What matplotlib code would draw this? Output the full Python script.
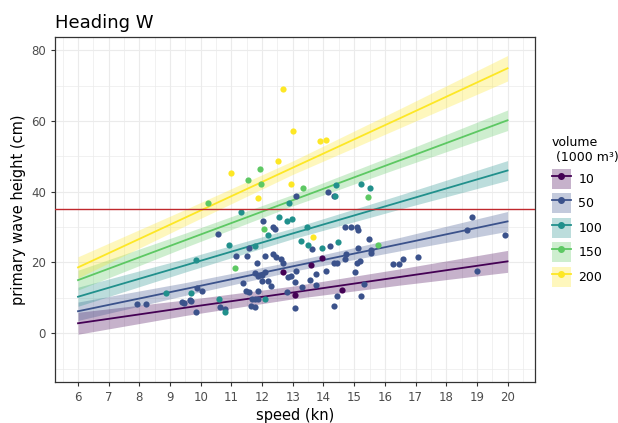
import numpy as np
import matplotlib
matplotlib.use("Agg")
import matplotlib.pyplot as plt
from matplotlib.patches import Patch
from matplotlib.lines import Line2D

# ---------- data ----------
volumes = ["10", "50", "100", "150", "200"]
colors = ["#440154", "#3B528B", "#21908C", "#5DC863", "#FDE725"]

fit_speed = [6, 9.5, 13, 16.5, 20]
fit_10 = [2.8, 7.2, 11.5, 15.9, 20.3]
fit_50 = [6.2, 12.5, 18.9, 25.2, 31.6]
fit_100 = [10.3, 19.2, 28.2, 37.1, 46.0]
fit_150 = [15.0, 26.3, 37.6, 48.9, 60.2]
fit_200 = [18.6, 32.7, 46.8, 60.8, 74.9]
# half width of the confidence ribbon
band_10 = [3.1, 2.2, 1.8, 2.3, 3.1]
band_50 = [2.6, 1.8, 1.4, 1.9, 2.8]
band_100 = [2.7, 1.9, 1.5, 2.0, 2.8]
band_150 = [2.8, 2.0, 1.6, 2.1, 2.9]
band_200 = [3.0, 2.3, 1.9, 2.7, 3.6]

pts_10_speed = [12.68, 13.95, 13.59, 14.60, 13.07]
pts_10_height = [17.2, 21.2, 19.2, 12.1, 10.7]

pts_50_speed = [7.92, 8.21, 9.39, 9.45, 9.65, 9.68, 9.84, 9.88, 10.04, 10.56,
                10.63, 10.79, 11.15, 11.37, 11.47, 11.50, 11.57, 11.57, 11.64, 11.67,
                11.77, 11.77, 11.77, 11.83, 11.86, 11.86, 11.86, 11.99, 11.99, 12.03,
                12.09, 12.09, 12.19, 12.29, 12.35, 12.35, 12.42, 12.45, 12.61, 12.68,
                12.81, 12.84, 12.94, 13.07, 13.07, 13.10, 13.10, 13.30, 13.56, 13.62,
                13.75, 13.75, 14.08, 14.14, 14.21, 14.34, 14.34, 14.34, 14.44, 14.44,
                14.70, 14.70, 14.73, 14.89, 15.02, 15.09, 15.09, 15.12, 15.12, 15.19,
                15.22, 15.32, 15.48, 15.54, 15.54, 16.26, 16.46, 16.59, 17.07, 18.67,
                18.83, 19.00, 19.90]
pts_50_height = [8.2, 8.2, 8.8, 8.5, 9.3, 9.0, 5.9, 12.7, 11.9, 28.0,
                 7.3, 6.8, 21.8, 14.1, 11.9, 21.8, 24.0, 11.6, 7.6, 9.6,
                 16.9, 9.6, 7.3, 19.8, 16.1, 11.9, 9.6, 16.4, 14.7, 31.6,
                 21.8, 17.2, 14.7, 13.3, 22.3, 29.9, 29.4, 21.5, 20.9, 19.8,
                 11.6, 15.8, 16.1, 14.4, 7.1, 38.7, 17.5, 13.0, 15.0, 23.7,
                 16.7, 13.6, 17.5, 39.8, 24.6, 38.7, 19.8, 7.6, 19.8, 10.5,
                 29.9, 20.9, 22.3, 29.9, 17.2, 29.9, 19.8, 29.1, 24.0, 20.3,
                 10.5, 13.8, 26.6, 23.4, 22.6, 19.5, 19.5, 20.9, 21.5, 29.1,
                 32.8, 17.5, 27.7]

pts_100_speed = [8.87, 9.68, 9.84, 10.59, 10.79, 10.92, 11.31, 11.77, 12.09, 12.19,
                 12.55, 12.81, 12.87, 12.97, 13.26, 13.46, 13.49, 13.95, 14.37, 14.40,
                 14.47, 15.22, 15.51]
pts_100_height = [11.3, 11.3, 20.6, 9.6, 5.9, 24.9, 34.2, 24.6, 9.6, 27.7,
                  32.8, 31.6, 36.7, 32.2, 26.0, 29.9, 24.9, 24.0, 38.7, 41.8,
                  25.7, 42.1, 41.0]

pts_150_speed = [10.23, 11.11, 11.54, 11.93, 11.96, 12.06, 13.33, 15.45, 15.77]
pts_150_height = [36.7, 18.4, 43.2, 46.3, 42.1, 29.4, 41.0, 38.4, 24.9]

pts_200_speed = [10.98, 11.86, 12.51, 12.68, 12.94, 13.00, 13.65, 13.88, 14.08]
pts_200_height = [45.2, 38.1, 48.6, 68.9, 42.1, 57.3, 27.1, 54.2, 54.5]

threshold = 35

fits = [fit_10, fit_50, fit_100, fit_150, fit_200]
bands = [band_10, band_50, band_100, band_150, band_200]
pts = [(pts_10_speed, pts_10_height), (pts_50_speed, pts_50_height),
       (pts_100_speed, pts_100_height), (pts_150_speed, pts_150_height),
       (pts_200_speed, pts_200_height)]

# ---------- plot ----------
fig = plt.figure(figsize=(6.18, 4.23), dpi=100)
ax = fig.add_axes([0.089, 0.097, 0.777, 0.816])

xs = np.array(fit_speed)
for col, fit, band in zip(colors, fits, bands):
    f = np.array(fit)
    b = np.array(band)
    ax.fill_between(xs, f - b, f + b, color=col, alpha=0.3, lw=0, zorder=2)
    ax.plot(xs, f, color=col, lw=1.3, zorder=3)

for col, (sx, sy) in zip(colors, pts):
    ax.scatter(sx, sy, s=20, color=col, lw=0, zorder=4)

ax.axhline(threshold, color="#C0282D", lw=1.0, zorder=5)

ax.set_xlim(5.25, 20.9)
ax.set_ylim(-13.8, 83.8)
ax.set_xticks(range(6, 21))
ax.set_xticks(np.arange(5.5, 21, 1), minor=True)
ax.set_yticks([0, 20, 40, 60, 80])
ax.set_yticks([-10, 10, 30, 50, 70], minor=True)
ax.grid(which="major", color="#EBEBEB", lw=0.8, zorder=0)
ax.grid(which="minor", color="#EBEBEB", lw=0.5, zorder=0)
ax.set_axisbelow(True)
ax.tick_params(which="major", length=3, color="#333333", labelcolor="#4D4D4D",
               labelsize=8.5, width=0.8)
ax.tick_params(which="minor", length=0)
for sp in ax.spines.values():
    sp.set_color("#333333")
    sp.set_linewidth(0.9)

ax.set_xlabel("speed (kn)", fontsize=10.5, labelpad=3)
ax.set_ylabel("primary wave height (cm)", fontsize=10.5, labelpad=4)
ax.set_title("Heading W", loc="left", fontsize=13, pad=6)

handles = [(Patch(facecolor=c, alpha=0.3, lw=0),
            Line2D([], [], color=c, lw=1.3, marker="o", markersize=4))
           for c in colors]
leg = fig.legend(handles, volumes, title="volume\n (1000 m³)", loc="center left",
                 bbox_to_anchor=(0.885, 0.50), frameon=False, fontsize=9,
                 title_fontsize=9, handlelength=1.5, handleheight=2.1,
                 labelspacing=0.35, handletextpad=0.6, borderaxespad=0)
leg._legend_box.align = "left"

fig.savefig("out.png", dpi=100)
